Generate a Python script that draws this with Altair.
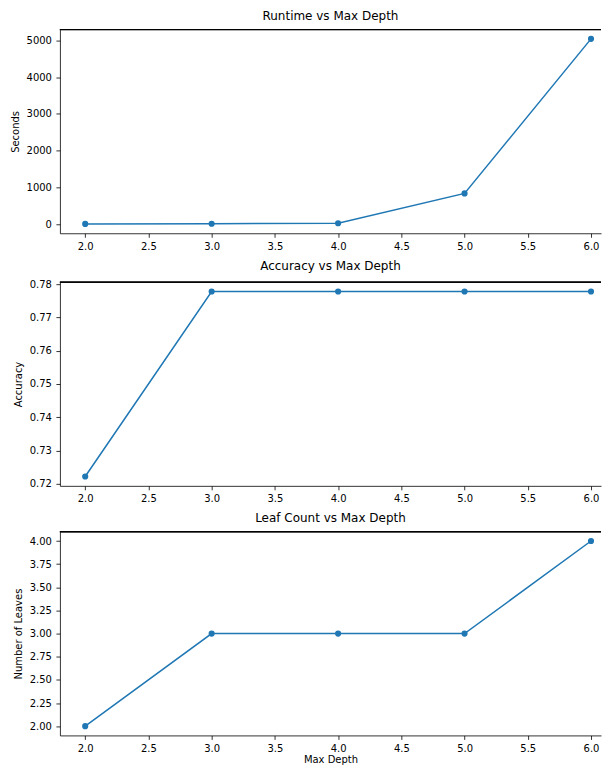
import altair as alt
import pandas as pd

# data
max_depth = [2, 3, 4, 5, 6]
runtime_seconds = [3, 8, 20, 833, 5045]
accuracy = [0.7222, 0.7778, 0.7778, 0.7778, 0.7778]
leaf_count = [2, 3, 3, 3, 4]

BLUE = "#1f77b4"
FONT = "DejaVu Sans"
W, H = 542, 204
X_TICKS = [2.0, 2.5, 3.0, 3.5, 4.0, 4.5, 5.0, 5.5, 6.0]


def panel(values, field, title, ytitle, ydomain, yticks, yfmt, xtitle=None):
    df = pd.DataFrame({"depth": max_depth, field: values})
    x = alt.X(
        "depth:Q",
        scale=alt.Scale(domain=[1.8, 6.079], nice=False, zero=False),
        axis=alt.Axis(values=X_TICKS, format=".1f", title=xtitle),
    )
    y = alt.Y(
        f"{field}:Q",
        scale=alt.Scale(domain=ydomain, nice=False, zero=False),
        axis=alt.Axis(values=yticks, format=yfmt, title=ytitle),
    )
    line = alt.Chart(df).mark_line(
        color=BLUE, strokeWidth=1.5,
        point=alt.OverlayMarkDef(filled=True, size=38, color=BLUE, opacity=1),
    ).encode(x=x, y=y)
    top = alt.Chart(df).mark_rule(color="black", strokeWidth=0.8).encode(
        x=alt.value(0), x2=alt.value(W), y=alt.value(0)
    )
    return alt.layer(line, top).properties(
        width=W, height=H,
        title=alt.TitleParams(title, fontSize=12, font=FONT, fontWeight="normal",
                              color="black", frame="group", anchor="middle", offset=6),
    )


p1 = panel(runtime_seconds, "runtime", "Runtime vs Max Depth", "Seconds",
           [-252, 5297], [0, 1000, 2000, 3000, 4000, 5000], "d")
p2 = panel(accuracy, "accuracy", "Accuracy vs Max Depth", "Accuracy",
           [0.7194, 0.7806], [0.72, 0.73, 0.74, 0.75, 0.76, 0.77, 0.78], ".2f")
p3 = panel(leaf_count, "leaves", "Leaf Count vs Max Depth", "Number of Leaves",
           [1.9, 4.1], [2.0, 2.25, 2.5, 2.75, 3.0, 3.25, 3.5, 3.75, 4.0], ".2f",
           xtitle="Max Depth")

chart = (
    alt.vconcat(p1, p2, p3, spacing=8)
    .properties(padding={"left": 2, "top": 1, "right": 0, "bottom": 0})
    .configure_view(stroke=None)
    .configure_axis(
        grid=False,
        domain=True,
        domainColor="black",
        domainWidth=0.8,
        tickColor="black",
        tickSize=4,
        tickWidth=0.8,
        labelPadding=4.5,
        labelFont=FONT,
        labelFontSize=10,
        labelColor="black",
        titleFont=FONT,
        titleFontSize=10,
        titleFontWeight="normal",
        titleColor="black",
        titlePadding=6,
    )
    .configure_axisX(titlePadding=1, labelPadding=4)
)

chart.save("out.html", embed_options={"renderer": "svg", "actions": False})
